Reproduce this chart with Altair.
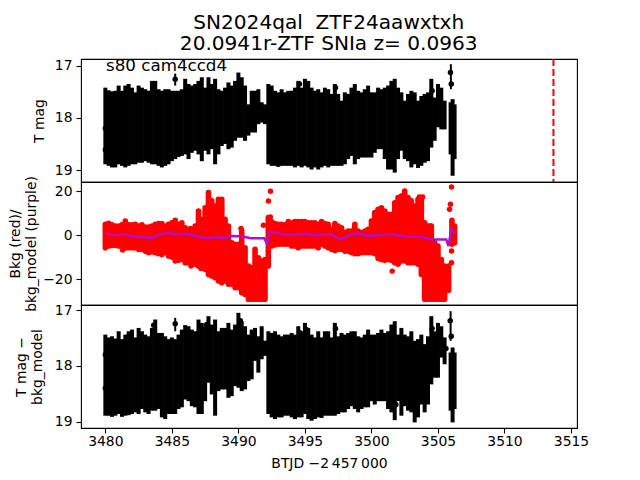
import altair as alt
import pandas as pd

t_grid = [3480.00,3480.25,3480.50,3480.75,3481.00,3481.25,3481.50,3481.75,3482.00,3482.25,
3482.50,3482.75,3483.00,3483.25,3483.50,3483.75,3484.00,3484.25,3484.50,3484.75,
3485.00,3485.25,3485.50,3485.75,3486.00,3486.25,3486.50,3486.75,3487.00,3487.25,
3487.50,3487.75,3488.00,3488.25,3488.50,3488.75,3489.00,3489.25,3489.50,3489.75,
3490.00,3490.25,3490.50,3490.75,3491.00,3491.25,3491.50,3491.75,3492.00,3492.25,
3492.50,3492.75,3493.00,3493.25,3493.50,3493.75,3494.00,3494.25,3494.50,3494.75,
3495.00,3495.25,3495.50,3495.75,3496.00,3496.25,3496.50,3496.75,3497.00,3497.25,
3497.50,3497.75,3498.00,3498.25,3498.50,3498.75,3499.00,3499.25,3499.50,3499.75,
3500.00,3500.25,3500.50,3500.75,3501.00,3501.25,3501.50,3501.75,3502.00,3502.25,
3502.50,3502.75,3503.00,3503.25,3503.50,3503.75,3504.00,3504.25,3504.50,3504.75,
3505.00,3505.25,3505.50,3505.80,3506.05,3506.25]
t_black_tail = [3505.95,3506.10,3506.25]

mag_hi = [17.42,17.47,17.49,17.48,17.38,17.48,17.38,17.35,17.42,17.51,
17.38,17.42,17.45,17.48,17.29,17.29,17.45,17.48,17.45,17.45,
17.48,17.48,17.48,17.45,17.25,17.35,17.38,17.35,17.29,17.22,
17.42,17.22,17.35,17.25,17.45,17.48,17.42,17.32,17.38,17.29,
17.13,17.22,17.38,17.74,17.48,17.48,17.45,17.70,17.74,17.35,
17.38,17.48,17.51,17.45,17.51,17.48,17.48,17.42,17.29,17.42,
17.25,17.29,17.42,17.48,17.45,17.51,17.42,17.45,
17.54,17.35,17.54,17.67,17.51,17.54,17.42,17.35,17.48,17.51,
17.45,17.38,17.51,17.51,17.42,17.45,17.42,17.38,17.29,17.25,
17.42,17.51,17.67,17.54,17.48,17.51,17.67,17.58,17.54,17.51,
17.25,17.61,17.35,17.42,17.67,17.70,17.64,17.74]
mag_lo = [18.89,18.92,18.95,18.95,18.89,18.92,18.95,18.92,18.89,18.89,
18.86,18.86,18.83,18.86,18.89,18.89,18.92,18.95,18.92,18.89,
18.83,18.79,18.75,18.73,18.70,18.79,18.67,18.63,18.70,18.83,
18.63,18.70,18.60,18.89,18.70,18.54,18.50,18.60,18.57,18.44,
18.38,18.38,18.44,18.34,18.28,18.28,18.12,18.09,18.12,18.89,
18.92,18.92,18.94,18.92,18.92,18.92,18.92,18.95,18.92,18.95,
18.92,18.95,18.99,18.95,18.99,18.95,18.92,18.95,
18.92,18.92,18.92,18.92,18.89,18.79,18.73,18.89,18.79,18.76,
18.76,18.76,18.76,18.67,18.60,18.60,18.79,18.99,18.99,19.05,
18.79,18.63,18.79,18.83,18.95,18.89,18.96,18.92,18.86,18.83,
18.57,18.44,18.18,18.22,18.22,18.70,19.11,18.79]
mag_out_t = [3485.25,3483.63,3494.59,3495.09,3497.30,3504.56,3505.94,3506.00,3480.00,3480.00]
mag_out_m = [17.26,17.35,17.35,17.35,17.42,17.48,17.13,17.35,18.61,18.20]
mag_bar_t = [3485.25,3505.97]
mag_bar_hi = [17.15,16.97]
mag_bar_lo = [17.38,17.45]

bkg_hi = [4.9,5.3,4.6,4.1,4.1,4.6,5.6,4.6,4.6,4.9,
4.1,4.6,3.6,3.6,4.1,4.9,5.2,5.2,4.1,4.9,
5.6,6.7,4.9,5.6,3.3,1.8,2.1,4.1,10.9,7.1,
12.4,19.3,15.5,13.2,16.2,16.2,7.1,4.1,-3.5,-4.2,
-4.2,1.8,-5.8,-14.1,-14.8,-6.5,-10.3,-11.8,-11.1,7.9,
6.1,5.2,4.9,4.9,4.6,6.1,5.6,6.1,6.1,6.1,
6.1,5.6,5.6,5.6,4.9,6.1,5.2,4.9,
2.6,5.2,4.1,3.3,1.1,1.8,1.8,4.9,1.8,1.1,
1.8,2.6,6.4,10.2,11.7,12.4,10.9,9.4,9.4,14.7,
17.0,17.7,20.0,17.0,15.5,13.2,16.2,16.2,5.6,4.1,
4.1,-3.5,-5.0,-11.1,-14.1,-14.1,6.7,4.1]
bkg_lo = [-5.8,-5.0,-4.7,-4.7,-5.0,-5.0,-5.8,-5.8,-5.8,-5.8,
-6.5,-6.5,-7.3,-8.0,-7.6,-8.0,-8.5,-8.8,-8.0,-9.5,
-10.0,-11.8,-11.5,-11.1,-12.6,-12.6,-13.3,-13.3,-14.1,-13.3,
-15.6,-17.9,-18.6,-19.4,-20.9,-21.7,-20.9,-22.4,-22.4,-23.9,
-23.9,-26.2,-27.0,-29.2,-29.2,-29.2,-29.2,-29.2,-29.2,-14.1,
-5.0,-4.5,-4.2,-4.2,-4.2,-4.2,-5.0,-5.0,-5.8,-5.0,
-5.0,-5.0,-5.0,-5.0,-5.8,-4.2,-5.0,-5.8,
-6.5,-7.0,-6.5,-6.5,-7.3,-7.3,-8.0,-8.5,-8.5,-8.0,
-8.0,-8.0,-8.0,-8.5,-10.6,-11.1,-11.5,-11.1,-11.5,-12.6,
-13.3,-11.8,-11.8,-12.6,-12.6,-12.6,-13.3,-17.9,-29.2,-29.2,
-29.2,-29.2,-29.2,-29.2,-29.2,-25.1,-4.2,-3.5]
bkg_out_t = [3481.30,3481.50,3486.44,3487.19,3486.39,3490.20,3491.88,3492.41,3492.26,3492.40,
3506.02,3505.94,3505.87,3506.02,3506.02,3501.56,3504.43,3503.85,3503.60]
bkg_out_v = [-6.8,6.4,-14.1,-15.2,3.0,3.0,4.4,19.9,15.5,8.2,
21.8,14.0,11.7,-7.3,-12.6,-16.4,4.1,17.3,17.3]

model_t = [3480.00,3480.68,3481.43,3482.18,3482.80,3483.43,3484.06,3484.69,3485.44,3486.19,
3486.94,3487.82,3488.45,3488.95,3489.32,3490.20,3490.95,3491.95,3492.15,3492.33,
3492.96,3493.71,3494.46,3495.21,3495.71,3496.97,3497.68,3498.44,3499.07,3499.70,
3500.45,3501.59,3502.72,3503.73,3504.48,3505.62,3505.79,3506.00,3506.30]
model_v = [0.6,0.0,0.3,-0.9,-0.75,-1.5,0.3,1.07,0.3,0.6,
-0.75,-1.5,-0.75,-1.5,-0.45,-0.6,-1.5,-1.5,-3.9,1.4,
0.9,0.0,0.3,0.6,-0.15,0.3,-2.0,0.3,0.76,-0.45,
0.0,0.3,-0.75,-0.75,-2.0,-2.0,-5.0,2.6,0.76]

sub_hi = [17.44,17.49,17.47,17.51,17.38,17.52,17.44,17.38,17.35,17.49,
17.32,17.38,17.44,17.47,17.32,17.17,17.41,17.41,17.47,17.52,
17.49,17.52,17.44,17.35,17.27,17.29,17.35,17.38,17.17,17.23,
17.29,17.11,17.26,17.17,17.38,17.32,17.32,17.23,17.35,17.26,
17.05,17.20,17.29,17.44,17.35,17.32,17.47,17.29,17.55,17.38,
17.41,17.38,17.44,17.47,17.44,17.44,17.41,17.44,17.29,17.38,
17.23,17.32,17.44,17.49,17.38,17.49,17.38,17.38,
17.49,17.23,17.47,17.41,17.44,17.41,17.38,17.38,17.47,17.49,
17.44,17.35,17.44,17.44,17.41,17.35,17.41,17.38,17.26,17.20,
17.44,17.32,17.44,17.47,17.38,17.55,17.52,17.44,17.61,17.47,
17.11,17.38,17.23,17.29,17.49,17.76,17.67,17.76]
sub_lo = [18.89,18.89,18.91,18.89,18.86,18.91,18.89,18.88,18.86,18.83,
18.86,18.77,18.83,18.86,18.80,18.80,18.77,18.92,18.95,18.86,
18.86,18.86,18.77,18.74,18.60,18.63,18.72,18.74,18.86,18.86,
18.63,18.30,18.51,18.89,18.45,18.42,18.42,18.57,18.54,18.36,
18.39,18.45,18.42,18.27,18.24,17.91,18.12,17.88,17.82,18.86,
18.92,18.95,18.92,18.92,18.89,18.89,18.92,18.95,18.92,18.92,
18.86,18.95,18.98,18.95,18.92,18.93,18.89,18.89,
18.89,18.89,18.86,18.83,18.83,18.77,18.72,18.77,18.83,18.77,
18.74,18.74,18.63,18.69,18.63,18.63,18.63,18.77,18.83,18.97,
18.63,18.89,18.72,18.80,18.83,19.01,18.92,18.69,18.83,18.69,
18.33,18.21,18.21,17.85,17.97,18.80,19.01,18.77]
sub_out_t = [3485.25,3483.63,3490.15,3487.62,3494.59,3495.09,3492.03,3497.30,3504.56,3505.92,3506.00,3505.60,3501.84,3502.50,3480.00,3480.00]
sub_out_m = [17.245,17.27,17.19,17.26,17.40,17.35,17.60,17.33,17.33,17.19,17.47,17.69,18.69,18.58,17.80,18.40]
sub_bar_t = [3485.25,3505.95]
sub_bar_hi = [17.14,17.02]
sub_bar_lo = [17.38,17.55]

title_lines = ["SN2024qal\u00a0\u00a0ZTF24aawxtxh", "20.0941r-ZTF SNIa z= 0.0963"]
xdom = [3478.17, 3515.45]
xticks = [3480, 3485, 3490, 3495, 3500, 3505, 3510, 3515]
FONT = "DejaVu Sans"
W, H = 496, 123


def xenc(show=False):
    if show:
        return alt.X("t:Q", scale=alt.Scale(domain=xdom, nice=False, zero=False),
                     axis=alt.Axis(values=xticks, format="d", title="BTJD \u22122\u2009457\u2009000",
                                   labelPadding=1, titlePadding=9, titleFontWeight="normal"))
    return alt.X("t:Q", scale=alt.Scale(domain=xdom, nice=False, zero=False), axis=None)


def yenc(field, dom, ticks, title, pad):
    return alt.Y(field, scale=alt.Scale(domain=dom, nice=False, zero=False),
                 axis=alt.Axis(values=ticks, title=title, format="d", titlePadding=pad,
                               titleFontWeight="normal"))


def black_layers(hi, lo, ot, om, bt, bh, bl, dom, title, show, pad):
    ts = t_grid[:103] + t_black_tail
    df = pd.DataFrame({"t": ts, "hi": hi, "lo": lo})
    rules = alt.Chart(df).mark_rule(color="black", strokeWidth=4).encode(
        x=xenc(show), y=yenc("hi:Q", dom, [17, 18, 19], title, pad), y2="lo:Q")
    bars = alt.Chart(pd.DataFrame({"t": bt, "hi": bh, "lo": bl})).mark_rule(color="black", strokeWidth=2).encode(
        x=xenc(show), y=yenc("hi:Q", dom, [17, 18, 19], title, pad), y2="lo:Q")
    pts = alt.Chart(pd.DataFrame({"t": ot, "hi": om})).mark_circle(color="black", size=30, opacity=1).encode(
        x=xenc(show), y=yenc("hi:Q", dom, [17, 18, 19], title, pad))
    return [rules, bars, pts]


dom1 = [19.23, 16.87]
p1_layers = black_layers(mag_hi, mag_lo, mag_out_t, mag_out_m, mag_bar_t, mag_bar_hi, mag_bar_lo,
                         dom1, "T mag", False, 8)
vline = alt.Chart(pd.DataFrame({"t": [3513.68]})).mark_rule(color="red", strokeWidth=2, strokeDash=[7, 3]).encode(
    x=xenc(False))
label = alt.Chart(pd.DataFrame({"t": [3480.05], "hi": [17.0], "s": ["s80 cam4ccd4"]})).mark_text(
    align="left", baseline="middle", fontSize=16.7, font=FONT, color="black").encode(
    x=xenc(False), y=alt.Y("hi:Q", scale=alt.Scale(domain=dom1, nice=False, zero=False)), text="s:N")
p1 = alt.layer(*p1_layers, vline, label).properties(width=W, height=H)

dom2 = [-31.8, 24.1]
bt_df = pd.DataFrame({"t": t_grid, "hi": bkg_hi, "lo": bkg_lo})
yb = yenc("hi:Q", dom2, [-20, 0, 20], ["Bkg (red)/", "bkg_model (purple)"], 4)
red_rules = alt.Chart(bt_df).mark_rule(color="#ff0000", strokeWidth=5.6, strokeCap="round").encode(
    x=xenc(False), y=yb, y2="lo:Q")
red_pts = alt.Chart(pd.DataFrame({"t": bkg_out_t, "hi": bkg_out_v})).mark_circle(color="#ff0000", size=30, opacity=1).encode(
    x=xenc(False), y=yb)
model = alt.Chart(pd.DataFrame({"t": model_t, "hi": model_v})).mark_line(color="#b010c8", strokeWidth=2.5).encode(
    x=xenc(False), y=yb)
p2 = alt.layer(red_rules, red_pts, model).properties(width=W, height=H)

dom3 = [19.11, 16.91]
p3_layers = black_layers(sub_hi, sub_lo, sub_out_t, sub_out_m, sub_bar_t, sub_bar_hi, sub_bar_lo,
                         dom3, ["T mag \u2212", "bkg_model"], True, 10)
p3 = alt.layer(*p3_layers).properties(width=W, height=H)

chart = alt.vconcat(p1, p2, p3, spacing=0, bounds="flush").properties(
    title=alt.TitleParams(text=title_lines, fontSize=20.1, font=FONT, fontWeight="normal",
                          anchor="middle", lineHeight=21, offset=3, dx=30, color="black"),
    padding={"left": 0, "top": 5, "right": 2, "bottom": 2},
).configure_view(stroke="black", strokeWidth=1.1).configure_axis(
    grid=False, domain=False, tickColor="black", tickWidth=1.1, tickSize=5, labelPadding=4,
    labelColor="black", titleColor="black", labelFont=FONT, titleFont=FONT,
    labelFontSize=13.9, titleFontSize=13.9,
).configure_concat(spacing=0)

chart.save("out.html", embed_options={"renderer": "svg", "actions": False})
